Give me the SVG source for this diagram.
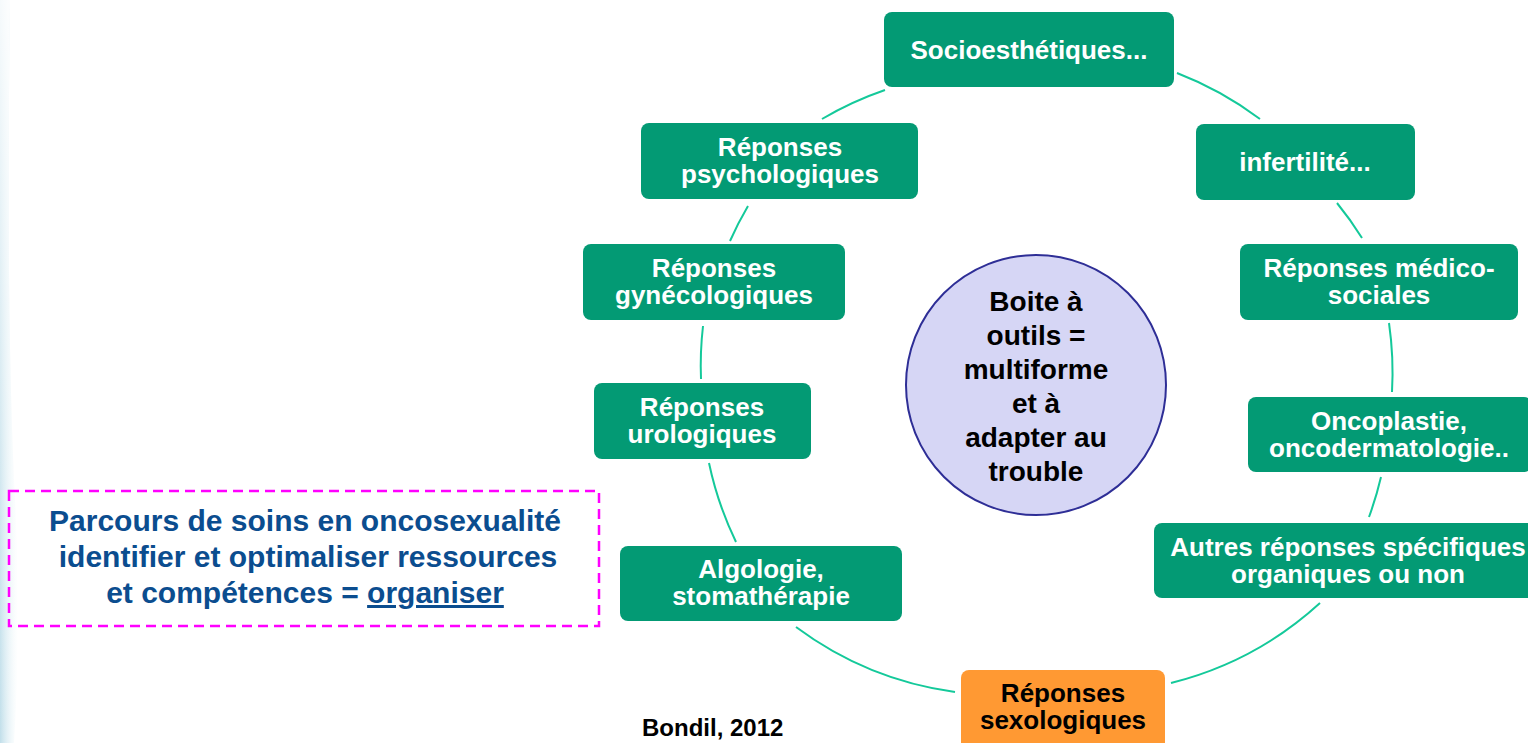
<svg xmlns="http://www.w3.org/2000/svg" width="1528" height="743" viewBox="0 0 1528 743">
<defs>
<linearGradient id="edge" x1="0" y1="0" x2="1" y2="0">
<stop offset="0" stop-color="#8cc3d8" stop-opacity="0.9"/>
<stop offset="1" stop-color="#d8eef5" stop-opacity="0"/>
</linearGradient>
<linearGradient id="edgeV" x1="0" y1="0" x2="0" y2="1">
<stop offset="0" stop-color="#ffffff" stop-opacity="0.85"/>
<stop offset="0.6" stop-color="#ffffff" stop-opacity="0.3"/>
<stop offset="1" stop-color="#ffffff" stop-opacity="0"/>
</linearGradient>
<style>
.box{fill:#039a74;}
.box-o{fill:#ff9933;}
.t{font-family:"Liberation Sans",Arial,sans-serif;font-weight:bold;font-size:26px;fill:#ffffff;text-anchor:middle;}
.tk{fill:#000000;}
.ct{font-family:"Liberation Sans",Arial,sans-serif;font-weight:bold;font-size:28px;fill:#000000;text-anchor:middle;}
.bt{font-family:"Liberation Sans",Arial,sans-serif;font-weight:bold;font-size:30px;fill:#0b4d8f;text-anchor:middle;}
.conn path{fill:none;stroke:#14c99a;stroke-width:2;}
</style>
</defs>
<rect width="1528" height="743" fill="#ffffff"/>
<g id="edge-decor">
<path d="M0,0 L10,0 Q6,300 14,480 Q22,620 14,743 L0,743 Z" fill="url(#edge)" opacity="0.6"/>
<path d="M0,0 L10,0 Q6,300 14,480 Q22,620 14,743 L0,743 Z" fill="url(#edgeV)"/>
</g>
<g id="connectors" class="conn">
<path d="M1177,73 A345,345 0 0 1 1260,119"/>
<path d="M1337,203 A345,345 0 0 1 1362,238"/>
<path d="M1389,323 A345,345 0 0 1 1392,392"/>
<path d="M1381,477 A345,345 0 0 1 1369,517"/>
<path d="M1320,603 A345,345 0 0 1 1171,683"/>
<path d="M955,692 A345,345 0 0 1 796,627"/>
<path d="M736,542 A345,345 0 0 1 709,463"/>
<path d="M701,379 A345,345 0 0 1 703,326"/>
<path d="M730,241 A345,345 0 0 1 748,206"/>
<path d="M822,119 A345,345 0 0 1 885,90"/>
</g>
<g id="n-socio">
<rect class="box" x="884" y="12" width="290" height="75" rx="8"/>
<text class="t" x="1029" y="59">Socioesthétiques...</text>
</g>
<g id="n-infert">
<rect class="box" x="1196" y="124" width="219" height="76" rx="8"/>
<text class="t" x="1305" y="171">infertilité...</text>
</g>
<g id="n-medico">
<rect class="box" x="1240" y="244" width="278" height="76" rx="8"/>
<text class="t" x="1379" y="277">Réponses médico-</text>
<text class="t" x="1379" y="304">sociales</text>
</g>
<g id="n-onco">
<rect class="box" x="1248" y="397" width="284" height="75" rx="8"/>
<text class="t" x="1389" y="430">Oncoplastie,</text>
<text class="t" x="1389" y="457">oncodermatologie..</text>
</g>
<g id="n-autres">
<rect class="box" x="1154" y="523" width="390" height="75" rx="8"/>
<text class="t" x="1348" y="556">Autres réponses spécifiques</text>
<text class="t" x="1348" y="583">organiques ou non</text>
</g>
<g id="n-sexo">
<rect class="box-o" x="961" y="670" width="204" height="80" rx="8"/>
<text class="t tk" x="1063" y="702">Réponses</text>
<text class="t tk" x="1063" y="729">sexologiques</text>
</g>
<g id="n-algo">
<rect class="box" x="620" y="546" width="282" height="75" rx="8"/>
<text class="t" x="761" y="578">Algologie,</text>
<text class="t" x="761" y="605">stomathérapie</text>
</g>
<g id="n-uro">
<rect class="box" x="594" y="383" width="217" height="76" rx="8"/>
<text class="t" x="702" y="416">Réponses</text>
<text class="t" x="702" y="443">urologiques</text>
</g>
<g id="n-gyn">
<rect class="box" x="583" y="244" width="262" height="76" rx="8"/>
<text class="t" x="714" y="277">Réponses</text>
<text class="t" x="714" y="304">gynécologiques</text>
</g>
<g id="n-psy">
<rect class="box" x="641" y="123" width="277" height="76" rx="8"/>
<text class="t" x="780" y="156">Réponses</text>
<text class="t" x="780" y="183">psychologiques</text>
</g>
<g id="n-center">
<circle cx="1036" cy="385" r="130" fill="#d6d6f5" stroke="#2e2e96" stroke-width="2"/>
<text class="ct" x="1036" y="311">Boite à</text>
<text class="ct" x="1036" y="345">outils =</text>
<text class="ct" x="1036" y="379">multiforme</text>
<text class="ct" x="1036" y="413">et à</text>
<text class="ct" x="1036" y="447">adapter au</text>
<text class="ct" x="1036" y="481">trouble</text>
</g>
<g id="n-parcours">
<rect x="9" y="491" width="590" height="135" fill="none" stroke="#ff00ff" stroke-width="2.5" stroke-dasharray="10,6"/>
<text class="bt" x="305" y="531">Parcours de soins en oncosexualité</text>
<text class="bt" x="308" y="567">identifier et optimaliser ressources</text>
<text class="bt" x="305" y="603">et compétences = <tspan text-decoration="underline">organiser</tspan></text>
</g>
<g id="credit">
<text x="642" y="736" font-family="Liberation Sans, Arial, sans-serif" font-weight="bold" font-size="24" fill="#000000">Bondil, 2012</text>
</g>
</svg>
